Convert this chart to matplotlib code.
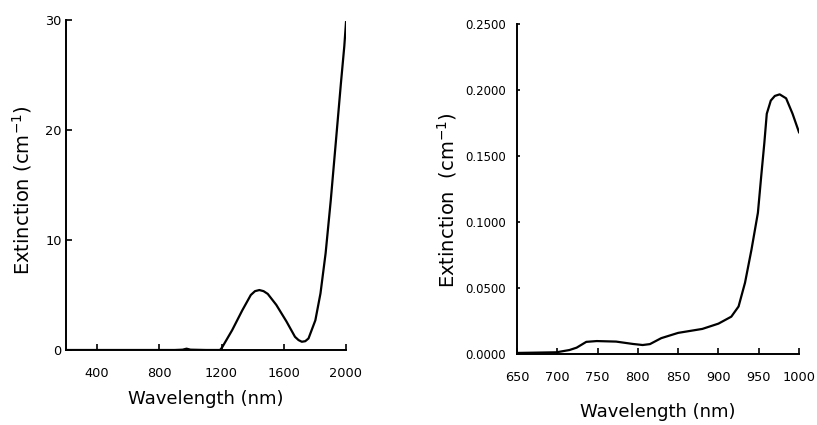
import matplotlib
matplotlib.use("Agg")
import matplotlib.pyplot as plt

plt.rcParams['font.family'] = ['DejaVu Sans']

# Left panel: broad range extinction
wl_left = [200, 400, 600, 800, 900, 950, 975, 1000, 1100, 1190, 1202, 1268, 1333, 1388,
           1415, 1443, 1470, 1497, 1552, 1617, 1672, 1695, 1716, 1738, 1759, 1803,
           1836, 1869, 1902, 1934, 1967, 1989, 2000]
ext_left = [0, 0, 0, 0, 0, 0.03, 0.12, 0.03, 0, 0, 0.2, 1.8, 3.6, 5.0,
            5.35, 5.45, 5.35, 5.1, 4.1, 2.6, 1.2, 0.9, 0.75, 0.8, 1.05, 2.7,
            5.15, 8.8, 13.6, 18.8, 24.2, 27.6, 29.8]
left_xticks = [400, 800, 1200, 1600, 2000]
left_yticks = [0, 10, 20, 30]

# Right panel: 650-1000 nm detail
wl_right = [650, 670, 699, 715, 724, 736, 749, 773, 794, 806, 815, 829, 850, 880,
            900, 916, 925, 933, 941, 949, 953, 957, 960, 965, 970, 976, 984, 992, 1000]
ext_right = [0.0008, 0.001, 0.0013, 0.003, 0.0048, 0.0092, 0.0098, 0.0094, 0.0076,
             0.0068, 0.0075, 0.012, 0.016, 0.019, 0.023, 0.0283, 0.036, 0.054,
             0.079, 0.107, 0.134, 0.160, 0.182, 0.192, 0.1955, 0.1967, 0.1937,
             0.182, 0.168]
right_xticks = [650, 700, 750, 800, 850, 900, 950, 1000]
right_yticks = [0.0, 0.05, 0.10, 0.15, 0.20, 0.25]
right_yticklabels = ["0.0000", "0.0500", "0.1000", "0.1500", "0.2000", "0.2500"]

fig = plt.figure(figsize=(8.17, 4.25), dpi=100)
ax1 = fig.add_axes([66/817, 75/425, 280/817, 330/425])
ax2 = fig.add_axes([517/817, 71/425, 282/817, 330/425])

for ax in (ax1, ax2):
    ax.spines['top'].set_visible(False)
    ax.spines['right'].set_visible(False)
    ax.spines['left'].set_linewidth(1.4)
    ax.spines['bottom'].set_linewidth(1.4)
    ax.tick_params(direction='in', length=4, width=1.2, colors='black')
    ax.tick_params(axis='x', pad=12)

ax1.plot(wl_left, ext_left, color='black', lw=1.6, solid_joinstyle='round')
ax1.set_xlim(200, 2000)
ax1.set_ylim(0, 30)
ax1.set_xticks(left_xticks)
ax1.set_yticks(left_yticks)
ax1.tick_params(labelsize=9.3)
ax1.tick_params(axis='y', pad=3)
ax1.set_xlabel("Wavelength (nm)", fontsize=13, va='top')
ax1.xaxis.set_label_coords(0.5, -0.121)
ax1.set_ylabel("Extinction (cm$^{-1}$)", fontsize=14)
ax1.yaxis.set_label_coords(-0.114, 0.485)

ax2.plot(wl_right, ext_right, color='black', lw=1.6, solid_joinstyle='round')
ax2.set_xlim(650, 1000)
ax2.set_ylim(0, 0.25)
ax2.set_xticks(right_xticks)
ax2.set_yticks(right_yticks)
ax2.set_yticklabels(right_yticklabels)
ax2.tick_params(axis='x', labelsize=9.3)
ax2.tick_params(axis='y', labelsize=8.5, length=2, pad=8)
ax2.set_xlabel("Wavelength (nm)", fontsize=13, va='top')
ax2.xaxis.set_label_coords(0.5, -0.148)
ax2.set_ylabel("Extinction  (cm$^{-1}$)", fontsize=14)
ax2.yaxis.set_label_coords(-0.206, 0.467)

fig.savefig("out.png", dpi=100)
